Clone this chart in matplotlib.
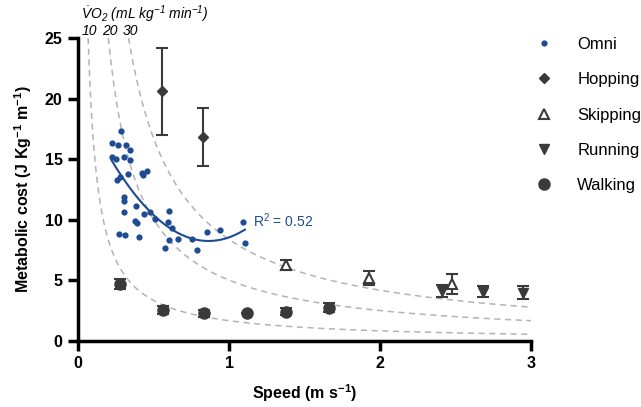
import numpy as np
import matplotlib
matplotlib.use("Agg")
import matplotlib.pyplot as plt
from matplotlib.lines import Line2D

plt.rcParams["font.family"] = ["Liberation Sans", "DejaVu Sans"]
plt.rcParams["mathtext.default"] = "regular"

# Omni data (speed m/s, metabolic cost J/kg/m)
omni_speed = [0.283, 0.222, 0.265, 0.316, 0.342, 0.228, 0.250, 0.303, 0.342, 0.426,
              0.456, 0.430, 0.331, 0.259, 0.276, 0.303, 0.303, 0.303, 0.386, 0.436,
              0.480, 0.380, 0.393, 0.507, 0.600, 0.594, 0.623, 0.270, 0.309, 0.403,
              0.605, 0.660, 0.577, 0.853, 0.941, 1.092, 1.105, 0.754, 0.787]
omni_cost = [17.33, 16.36, 16.20, 16.15, 15.73, 15.15, 14.99, 15.20, 14.93, 13.83,
             14.03, 13.70, 13.75, 13.28, 13.56, 11.86, 11.55, 10.67, 11.14, 10.48,
             10.62, 9.93, 9.76, 10.04, 10.75, 9.84, 9.30, 8.83, 8.77, 8.56,
             8.33, 8.39, 7.65, 8.97, 9.16, 9.82, 8.06, 8.39, 7.50]

hop_speed = [0.553, 0.831]
hop_cost = [20.6, 16.8]
hop_err = [3.6, 2.4]

skip_speed = [1.38, 1.93, 2.48]
skip_cost = [6.25, 5.2, 4.7]
skip_err = [0.4, 0.6, 0.8]

run_speed = [2.41, 2.68, 2.95]
run_cost = [4.15, 4.05, 4.0]
run_err = [0.5, 0.45, 0.5]

walk_speed = [0.277, 0.56, 0.836, 1.117, 1.38, 1.66]
walk_cost = [4.68, 2.56, 2.28, 2.28, 2.42, 2.75]
walk_err = [0.4, 0.35, 0.3, 0.0, 0.3, 0.35]

vo2_levels = [10, 20, 30]
vo2_rest = 5.0        # mL/kg/min
energy_eq = 20.1      # J per mL O2
r2_text = "R$^2$ = 0.52"

blue = "#1d4b94"
dark = "#3a3a3a"

fig = plt.figure(figsize=(6.41, 4.07), dpi=100)
ax = fig.add_axes([78 / 641, 1 - 341 / 407, (531 - 78) / 641, (341 - 38) / 407])

# iso-VO2 lines
for lvl in vo2_levels:
    k = (lvl - vo2_rest) * energy_eq / 60.0
    v = np.linspace(k / 25.0, 3.0, 300)
    ax.plot(v, k / v, ls=(0, (4, 3)), color="#b3b3b3", lw=1.1, zorder=1)
    ax.text(k / 25.0 + 0.01, 25.6, str(lvl), ha="center", va="center", fontsize=10,
            style="italic", clip_on=False)

ax.text(0.02, 26.95, r"$\dot{V}O_2$ (mL kg$^{-1}$ min$^{-1}$)", ha="left", va="center",
        fontsize=10, style="italic", clip_on=False)

# quadratic fit to omni data
coef = np.polyfit(omni_speed, omni_cost, 2)
xs = np.linspace(min(omni_speed), max(omni_speed), 200)
ax.plot(xs, np.polyval(coef, xs), color=blue, lw=1.5, zorder=3)
ax.text(1.16, 9.9, r2_text, color=blue, fontsize=10, va="center")

ax.plot(omni_speed, omni_cost, "o", color=blue, ms=4.5, mec="none", zorder=4)
ax.errorbar(hop_speed, hop_cost, yerr=hop_err, fmt="D", color=dark, ms=5, capsize=4,
            elinewidth=1.5, capthick=1.5, zorder=4)
ax.errorbar(skip_speed, skip_cost, yerr=skip_err, fmt="^", color=dark, mfc="white",
            mec=dark, mew=1.5, ms=7, capsize=4, elinewidth=1.5, capthick=1.5, zorder=4)
ax.errorbar(run_speed, run_cost, yerr=run_err, fmt="v", color=dark, ms=7, capsize=4,
            elinewidth=1.5, capthick=1.5, zorder=4)
ax.errorbar(walk_speed, walk_cost, yerr=walk_err, fmt="o", color=dark, ms=8, capsize=4,
            elinewidth=1.5, capthick=1.5, zorder=4)

ax.set_xlim(0, 3)
ax.set_ylim(0, 25)
ax.set_xticks([0, 1, 2, 3])
ax.set_yticks([0, 5, 10, 15, 20, 25])
for s in ["top", "right"]:
    ax.spines[s].set_visible(False)
for s in ["left", "bottom"]:
    ax.spines[s].set_linewidth(2.5)
ax.tick_params(direction="out", length=7, width=2.5, labelsize=11.5, pad=4)
for lab in ax.get_xticklabels() + ax.get_yticklabels():
    lab.set_fontweight("bold")

ax.set_xlabel("Speed (m s$^{-1}$)", fontsize=11.5, fontweight="bold", labelpad=8)
ax.set_ylabel("Metabolic cost (J Kg$^{-1}$ m$^{-1}$)", fontsize=11.5, fontweight="bold", labelpad=8)

# legend with markers only
handles = [
    Line2D([], [], ls="none", marker="o", color=blue, ms=4.5, mec="none"),
    Line2D([], [], ls="none", marker="D", color=dark, ms=5),
    Line2D([], [], ls="none", marker="^", color=dark, mfc="white", mew=1.5, ms=7),
    Line2D([], [], ls="none", marker="v", color=dark, ms=7),
    Line2D([], [], ls="none", marker="o", color=dark, ms=8),
]
labels = ["Omni", "Hopping", "Skipping", "Running", "Walking"]
ax.legend(handles, labels, loc="upper left", bbox_to_anchor=(535.6 / 641, 1 - 37.0 / 407),
          bbox_transform=fig.transFigure, frameon=False, fontsize=12,
          handlelength=1, handletextpad=1.5, labelspacing=1.22,
          borderpad=0, borderaxespad=0)

fig.savefig("out.png", dpi=100)
